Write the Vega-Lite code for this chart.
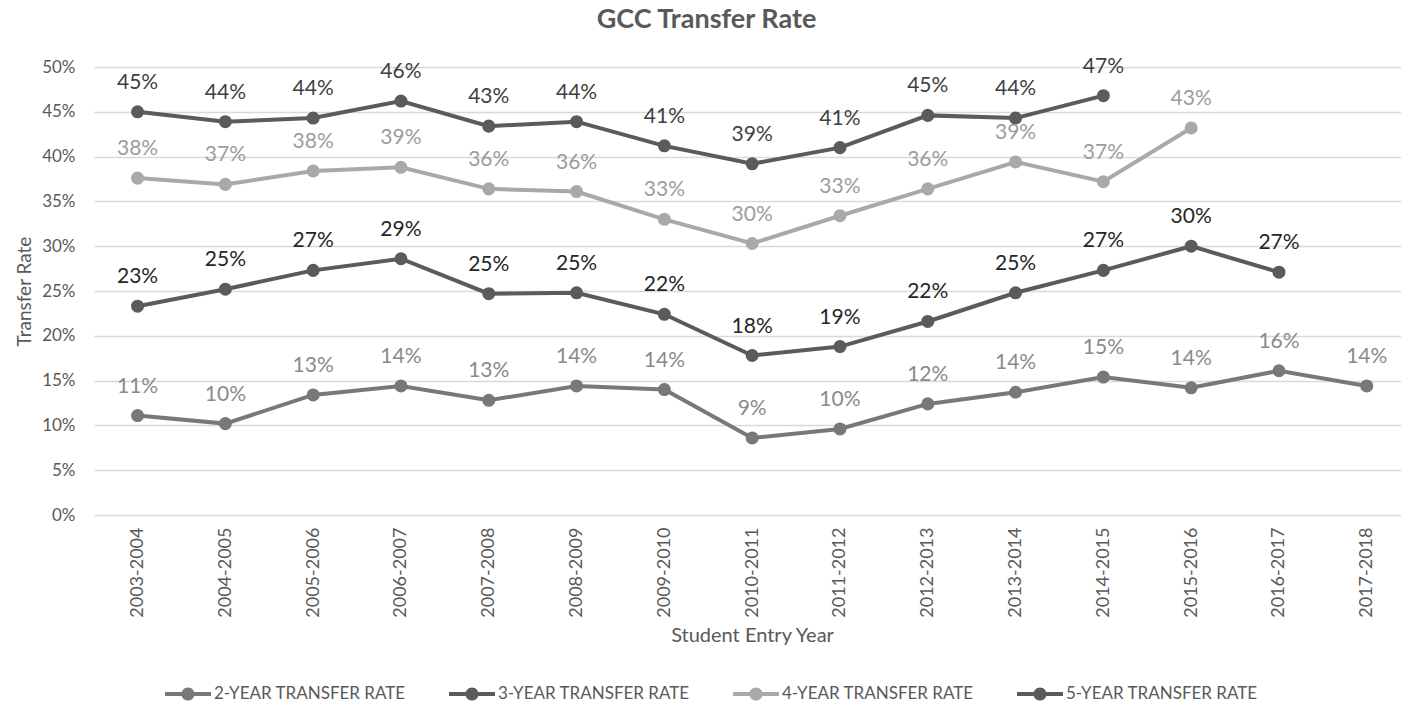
{
  "$schema": "https://vega.github.io/schema/vega-lite/v6.json",
  "width": 1307,
  "height": 448,
  "autosize": {"type": "none"},
  "padding": {"left": 94, "top": 67, "right": 0, "bottom": 189},
  "background": "white",
  "config": {
    "view": {"stroke": null},
    "font": "Lato"
  },
  "title": {
    "text": "GCC Transfer Rate",
    "font": "Lato",
    "fontSize": 27,
    "fontWeight": "bold",
    "color": "#595959",
    "anchor": "middle",
    "baseline": "alphabetic",
    "offset": 1,
    "dx": -41
  },
  "data": {
    "values": [
      {"year": "2003-2004", "series": "2-YEAR TRANSFER RATE", "rate": 0.111},
      {"year": "2004-2005", "series": "2-YEAR TRANSFER RATE", "rate": 0.102},
      {"year": "2005-2006", "series": "2-YEAR TRANSFER RATE", "rate": 0.134},
      {"year": "2006-2007", "series": "2-YEAR TRANSFER RATE", "rate": 0.144},
      {"year": "2007-2008", "series": "2-YEAR TRANSFER RATE", "rate": 0.128},
      {"year": "2008-2009", "series": "2-YEAR TRANSFER RATE", "rate": 0.144},
      {"year": "2009-2010", "series": "2-YEAR TRANSFER RATE", "rate": 0.140},
      {"year": "2010-2011", "series": "2-YEAR TRANSFER RATE", "rate": 0.086},
      {"year": "2011-2012", "series": "2-YEAR TRANSFER RATE", "rate": 0.096},
      {"year": "2012-2013", "series": "2-YEAR TRANSFER RATE", "rate": 0.124},
      {"year": "2013-2014", "series": "2-YEAR TRANSFER RATE", "rate": 0.137},
      {"year": "2014-2015", "series": "2-YEAR TRANSFER RATE", "rate": 0.154},
      {"year": "2015-2016", "series": "2-YEAR TRANSFER RATE", "rate": 0.142},
      {"year": "2016-2017", "series": "2-YEAR TRANSFER RATE", "rate": 0.161},
      {"year": "2017-2018", "series": "2-YEAR TRANSFER RATE", "rate": 0.144},
      {"year": "2003-2004", "series": "3-YEAR TRANSFER RATE", "rate": 0.233},
      {"year": "2004-2005", "series": "3-YEAR TRANSFER RATE", "rate": 0.252},
      {"year": "2005-2006", "series": "3-YEAR TRANSFER RATE", "rate": 0.273},
      {"year": "2006-2007", "series": "3-YEAR TRANSFER RATE", "rate": 0.286},
      {"year": "2007-2008", "series": "3-YEAR TRANSFER RATE", "rate": 0.247},
      {"year": "2008-2009", "series": "3-YEAR TRANSFER RATE", "rate": 0.248},
      {"year": "2009-2010", "series": "3-YEAR TRANSFER RATE", "rate": 0.224},
      {"year": "2010-2011", "series": "3-YEAR TRANSFER RATE", "rate": 0.178},
      {"year": "2011-2012", "series": "3-YEAR TRANSFER RATE", "rate": 0.188},
      {"year": "2012-2013", "series": "3-YEAR TRANSFER RATE", "rate": 0.216},
      {"year": "2013-2014", "series": "3-YEAR TRANSFER RATE", "rate": 0.248},
      {"year": "2014-2015", "series": "3-YEAR TRANSFER RATE", "rate": 0.273},
      {"year": "2015-2016", "series": "3-YEAR TRANSFER RATE", "rate": 0.300},
      {"year": "2016-2017", "series": "3-YEAR TRANSFER RATE", "rate": 0.271},
      {"year": "2003-2004", "series": "4-YEAR TRANSFER RATE", "rate": 0.376},
      {"year": "2004-2005", "series": "4-YEAR TRANSFER RATE", "rate": 0.369},
      {"year": "2005-2006", "series": "4-YEAR TRANSFER RATE", "rate": 0.384},
      {"year": "2006-2007", "series": "4-YEAR TRANSFER RATE", "rate": 0.388},
      {"year": "2007-2008", "series": "4-YEAR TRANSFER RATE", "rate": 0.364},
      {"year": "2008-2009", "series": "4-YEAR TRANSFER RATE", "rate": 0.361},
      {"year": "2009-2010", "series": "4-YEAR TRANSFER RATE", "rate": 0.330},
      {"year": "2010-2011", "series": "4-YEAR TRANSFER RATE", "rate": 0.303},
      {"year": "2011-2012", "series": "4-YEAR TRANSFER RATE", "rate": 0.334},
      {"year": "2012-2013", "series": "4-YEAR TRANSFER RATE", "rate": 0.364},
      {"year": "2013-2014", "series": "4-YEAR TRANSFER RATE", "rate": 0.394},
      {"year": "2014-2015", "series": "4-YEAR TRANSFER RATE", "rate": 0.372},
      {"year": "2015-2016", "series": "4-YEAR TRANSFER RATE", "rate": 0.432},
      {"year": "2003-2004", "series": "5-YEAR TRANSFER RATE", "rate": 0.450},
      {"year": "2004-2005", "series": "5-YEAR TRANSFER RATE", "rate": 0.439},
      {"year": "2005-2006", "series": "5-YEAR TRANSFER RATE", "rate": 0.443},
      {"year": "2006-2007", "series": "5-YEAR TRANSFER RATE", "rate": 0.462},
      {"year": "2007-2008", "series": "5-YEAR TRANSFER RATE", "rate": 0.434},
      {"year": "2008-2009", "series": "5-YEAR TRANSFER RATE", "rate": 0.439},
      {"year": "2009-2010", "series": "5-YEAR TRANSFER RATE", "rate": 0.412},
      {"year": "2010-2011", "series": "5-YEAR TRANSFER RATE", "rate": 0.392},
      {"year": "2011-2012", "series": "5-YEAR TRANSFER RATE", "rate": 0.410},
      {"year": "2012-2013", "series": "5-YEAR TRANSFER RATE", "rate": 0.446},
      {"year": "2013-2014", "series": "5-YEAR TRANSFER RATE", "rate": 0.443},
      {"year": "2014-2015", "series": "5-YEAR TRANSFER RATE", "rate": 0.468}
    ]
  },
  "encoding": {
    "x": {
      "field": "year",
      "type": "ordinal",
      "sort": null,
      "scale": {"type": "point", "padding": 0.443, "align": 0.56},
      "axis": {
        "title": "Student Entry Year",
        "titleFont": "Lato",
        "titleFontSize": 20,
        "titleFontWeight": "normal",
        "titleColor": "#595959",
        "titleBaseline": "middle",
        "titleX": 658,
        "titleY": 120,
        "labelAngle": -90,
        "labelFont": "Lato",
        "labelFontSize": 18,
        "labelColor": "#595959",
        "labelPadding": 12,
        "ticks": false,
        "domain": false,
        "grid": false
      }
    },
    "y": {
      "field": "rate",
      "type": "quantitative",
      "scale": {"domain": [0, 0.5], "nice": false, "zero": true},
      "axis": {
        "title": "Transfer Rate",
        "titleFont": "Lato",
        "titleFontSize": 19,
        "titleFontWeight": "normal",
        "titleColor": "#595959",
        "titleAngle": -90,
        "titleBaseline": "middle",
        "titleX": -70,
        "titleY": 224,
        "values": [0, 0.05, 0.1, 0.15, 0.2, 0.25, 0.3, 0.35, 0.4, 0.45, 0.5],
        "format": ".0%",
        "labelFont": "Lato",
        "labelFontSize": 17,
        "labelColor": "#595959",
        "labelPadding": 19,
        "ticks": false,
        "domain": false,
        "grid": true,
        "gridColor": "#d9d9d9",
        "gridWidth": 1.3
      }
    }
  },
  "layer": [
    {
      "encoding": {
        "color": {
          "field": "series",
          "type": "nominal",
          "scale": {
            "domain": ["2-YEAR TRANSFER RATE", "3-YEAR TRANSFER RATE", "4-YEAR TRANSFER RATE", "5-YEAR TRANSFER RATE"],
            "range": ["#787878", "#5b5b5b", "#a9a9a9", "#5b5b5b"]
          },
          "legend": {
            "title": null,
            "orient": "none",
            "legendX": 83,
            "legendY": 616,
            "direction": "horizontal",
            "padding": 0,
            "symbolType": "M-2.1,-0.18 L2.1,-0.18 L2.1,0.18 L-2.1,0.18 Z M-0.6,0 A0.6,0.6 0 1,1 0.6,0 A0.6,0.6 0 1,1 -0.6,0 Z",
            "symbolSize": 480,
            "symbolStrokeWidth": 0,
            "symbolOpacity": 1,
            "labelOffset": 15,
            "labelFont": "Lato",
            "labelFontSize": 17,
            "labelColor": "#595959",
            "labelLimit": 400,
            "columnPadding": 42
          }
        }
      },
      "layer": [
        {
          "mark": {"type": "line", "strokeWidth": 4}
        },
        {
          "mark": {"type": "point", "filled": true, "size": 170, "opacity": 1}
        }
      ]
    },
    {
      "mark": {"type": "text", "baseline": "alphabetic", "dy": -23, "font": "Lato", "fontSize": 21},
      "encoding": {
        "text": {"field": "rate", "type": "quantitative", "format": ".0%"},
        "color": {
          "field": "series",
          "type": "nominal",
          "scale": {
            "domain": ["2-YEAR TRANSFER RATE", "3-YEAR TRANSFER RATE", "4-YEAR TRANSFER RATE", "5-YEAR TRANSFER RATE"],
            "range": ["#8a8a8a", "#262626", "#9c9c9c", "#404040"]
          },
          "legend": null
        }
      }
    }
  ],
  "resolve": {"scale": {"color": "independent"}}
}
